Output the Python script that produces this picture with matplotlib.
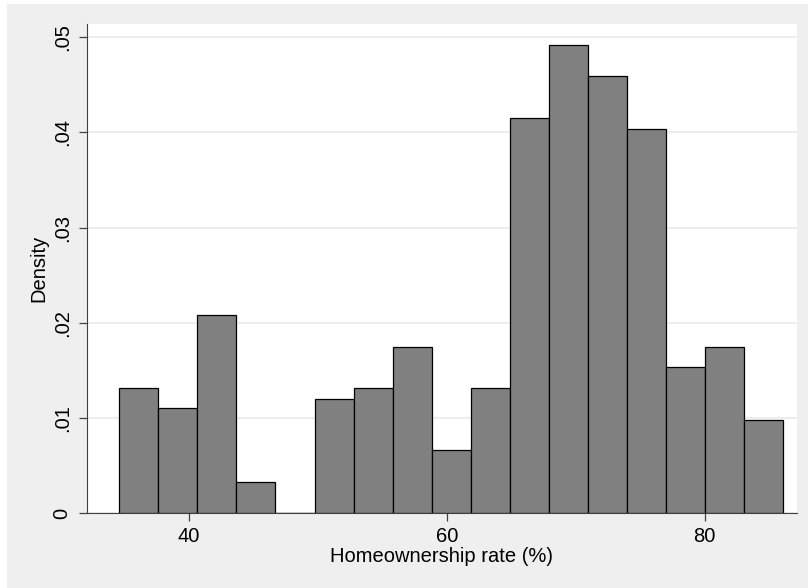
import matplotlib.pyplot as plt
from matplotlib.patches import Rectangle

# histogram of homeownership rates, 17 bins
bin_start = 34.59
bin_width = 3.03
density = [0.0131, 0.0110, 0.0208, 0.0033, 0.0, 0.0120, 0.0131, 0.0175, 0.0066,
           0.0131, 0.0415, 0.0492, 0.0459, 0.0404, 0.0153, 0.0175, 0.0098]
x_ticks = [40, 60, 80]
y_ticks = [0, 0.01, 0.02, 0.03, 0.04, 0.05]
y_tick_labels = ['0', '.01', '.02', '.03', '.04', '.05']

plt.rcParams['font.family'] = ['Liberation Sans', 'DejaVu Sans']

fig = plt.figure(figsize=(8.08, 5.88), dpi=100)
fig.patch.set_facecolor('white')
# light grey graph region
fig.patches.append(Rectangle((7 / 808, 0), 1, 1 - 4 / 588, transform=fig.transFigure,
                             facecolor='#efefef', edgecolor='none', zorder=-10))

ax = fig.add_axes([87 / 808, 1 - 513 / 588, 710 / 808, (513 - 24) / 588])
ax.set_facecolor('white')

lefts = [bin_start + i * bin_width for i in range(len(density))]
ax.bar(lefts, density, width=bin_width, align='edge', color='#808080',
       edgecolor='black', linewidth=0.9, zorder=3)

ax.set_xlim(32.09, 87.17)
ax.set_ylim(0, 0.0514)
ax.set_xticks(x_ticks)
ax.set_yticks(y_ticks)
ax.set_yticklabels(y_tick_labels, rotation=90, va='center')
ax.grid(axis='y', color='#e8e8e8', linewidth=1.1, zorder=0)

for side in ['top', 'right']:
    ax.spines[side].set_visible(False)
ax.spines['left'].set_color('#404040')
ax.spines['bottom'].set_color('#404040')
ax.tick_params(axis='both', length=6, width=0.9, color='#404040',
               labelsize=14.5, labelcolor='black')
ax.tick_params(axis='y', pad=5)
ax.tick_params(axis='x', pad=4)

ax.set_xlabel('Homeownership rate (%)', fontsize=14.5, labelpad=1)
ax.set_ylabel('Density', fontsize=14.5, labelpad=3)

fig.savefig('out.png', dpi=100, facecolor=fig.get_facecolor())
